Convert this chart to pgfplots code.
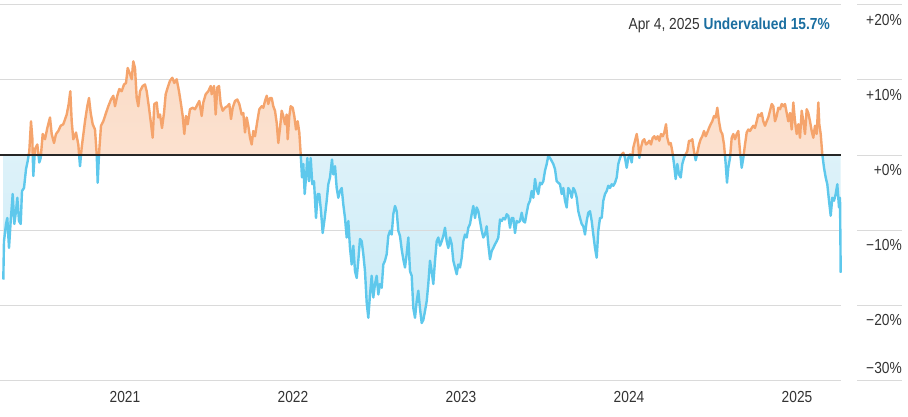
\documentclass[border=0pt]{standalone}
\usepackage{pgfplots}
\pgfplotsset{compat=1.18}
\usepackage{pgfplotstable}
\usepackage{fontspec}
\setmainfont{Liberation Sans}[FakeStretch=0.86]
\definecolor{orline}{HTML}{F5A46C}
\definecolor{orfillA}{HTML}{FBDCC7}
\definecolor{orfillB}{HTML}{FDEBDF}
\definecolor{blline}{HTML}{5EC8EC}
\definecolor{blfillA}{HTML}{E6F5FB}
\definecolor{blfillB}{HTML}{CDECF7}
\definecolor{gridc}{HTML}{DADADA}
\definecolor{txtc}{HTML}{333333}
\definecolor{annblue}{HTML}{1A6EA0}
\pgfplotstableread{
x y
3.3 -16.6
4.0 -11.5
6.0 -9.2
7.3 -8.4
9.0 -12.4
10.7 -8.8
12.7 -5.2
14.3 -9.2
16.0 -7.5
17.3 -5.7
19.0 -8.8
20.7 -9.2
22.0 -4.8
24.0 -4.4
26.0 -1.9
27.7 -0.8
29.3 0.5
31.0 4.5
32.3 2.3
33.3 -2.8
35.0 0.8
37.3 1.4
39.3 -1.0
40.7 -0.4
42.7 2.8
45.0 2.1
47.3 3.6
50.0 5.0
51.7 2.8
54.0 1.6
56.0 2.8
58.3 3.2
60.7 3.9
63.3 4.1
66.7 5.4
68.7 6.8
70.3 8.5
71.7 4.5
73.3 2.1
76.0 3.0
78.3 1.4
80.0 -1.5
81.7 1.0
85.0 4.5
87.3 6.5
89.0 7.6
90.7 5.6
92.7 4.1
95.0 3.4
96.7 0.1
97.7 -3.7
99.0 0.1
101.0 3.9
103.3 4.5
106.0 5.6
108.3 6.5
111.0 7.4
113.3 7.9
115.0 6.5
117.3 7.9
119.3 8.8
121.7 8.5
124.0 9.4
126.0 9.6
127.7 11.6
130.0 10.8
131.7 10.1
133.3 12.5
135.0 11.6
136.7 7.6
138.3 6.5
140.0 8.5
142.7 9.2
145.0 9.4
146.7 8.5
149.0 6.3
150.7 4.5
152.7 2.3
154.3 6.8
156.7 7.0
158.3 5.0
160.0 5.4
162.0 3.6
164.0 5.6
165.7 8.1
167.7 9.0
170.0 9.9
172.3 10.3
174.3 9.6
176.7 10.1
179.0 8.5
181.0 6.8
182.7 5.2
184.3 2.8
186.0 5.2
187.7 4.1
190.0 6.1
192.7 6.3
195.0 6.1
197.7 6.8
199.3 7.2
201.7 5.2
203.3 7.0
205.7 8.1
208.3 8.5
210.7 9.2
211.7 8.1
214.0 9.2
215.7 5.4
217.3 9.0
219.0 9.2
220.7 6.8
222.7 5.9
225.0 6.3
227.3 6.5
229.3 6.8
231.0 4.8
232.7 6.3
235.0 7.2
237.3 7.4
239.3 6.8
241.7 5.4
243.3 5.6
245.0 3.0
246.7 5.0
248.3 3.9
250.0 2.3
251.7 1.4
253.3 3.2
255.0 2.5
257.3 4.5
259.3 6.1
261.7 6.5
263.3 6.3
265.0 7.2
266.7 7.9
268.3 6.8
270.0 7.6
271.7 7.6
273.3 6.5
275.0 5.9
276.7 4.3
278.3 1.6
280.0 3.6
281.7 5.9
283.3 5.2
285.0 4.1
286.7 5.4
287.7 2.1
289.3 5.2
290.7 6.5
292.7 6.3
294.3 5.2
296.0 3.4
297.7 4.5
299.3 3.0
300.7 0.1
302.0 -3.0
303.3 -1.2
304.7 -5.2
306.0 -3.0
307.3 -0.4
309.0 -3.5
310.7 -0.4
312.3 -3.9
314.0 -3.5
316.0 -8.4
317.7 -5.2
319.3 -5.2
321.0 -7.5
322.7 -10.4
324.7 -8.4
326.7 -6.1
328.3 -3.9
330.0 -3.0
332.0 -0.6
333.3 -2.6
335.0 -1.5
336.7 -4.4
338.3 -5.7
340.0 -4.8
341.7 -4.4
343.3 -6.6
345.0 -8.4
346.7 -11.0
348.3 -8.8
350.0 -12.4
351.7 -14.6
353.3 -12.1
355.0 -15.5
356.7 -16.4
358.3 -14.1
360.0 -11.2
361.7 -11.5
363.3 -13.2
365.0 -15.5
366.7 -19.7
368.3 -21.7
370.0 -18.6
371.7 -16.1
373.3 -19.0
375.0 -17.2
376.7 -16.1
378.3 -18.6
380.0 -17.2
381.7 -17.7
383.3 -14.6
385.0 -14.1
386.7 -13.2
388.3 -10.8
390.0 -10.1
391.7 -10.6
393.3 -7.9
395.0 -6.8
396.7 -7.5
398.3 -10.1
400.0 -10.8
401.7 -12.6
403.3 -13.9
405.0 -15.0
406.7 -13.2
408.3 -11.0
410.0 -15.5
411.7 -16.1
413.3 -20.4
415.0 -21.7
416.7 -19.5
418.3 -18.1
420.0 -20.5
421.7 -22.4
423.3 -22.0
425.0 -20.8
426.7 -19.5
428.3 -17.2
430.0 -14.1
431.7 -15.5
433.3 -17.2
435.0 -14.1
436.7 -11.5
438.3 -11.0
440.0 -12.1
441.7 -11.5
443.3 -10.8
445.0 -9.7
446.7 -11.5
448.3 -12.4
450.0 -11.0
451.7 -11.9
453.3 -14.1
455.0 -15.0
456.7 -15.9
458.3 -14.6
460.0 -15.0
461.7 -13.7
463.3 -11.5
465.0 -10.6
466.7 -11.0
468.3 -9.7
470.0 -9.2
471.7 -7.9
473.3 -6.8
475.0 -8.4
476.7 -7.0
478.3 -7.5
480.0 -8.8
481.7 -10.1
483.3 -11.0
485.0 -10.6
486.7 -9.5
488.3 -11.9
490.0 -13.9
491.7 -12.8
493.3 -12.4
495.0 -11.9
496.7 -11.5
498.3 -11.0
500.0 -8.6
501.7 -8.8
503.3 -8.4
505.0 -8.6
506.7 -7.9
508.3 -8.1
510.0 -9.7
511.7 -8.4
513.3 -8.4
515.0 -10.4
516.7 -8.8
518.3 -9.0
520.0 -8.8
521.7 -7.7
523.3 -8.8
525.0 -9.0
526.7 -7.7
528.3 -6.6
530.0 -6.1
531.7 -4.8
533.3 -5.7
535.0 -3.2
536.7 -4.6
538.3 -5.2
540.0 -3.7
541.7 -3.9
543.3 -3.5
545.0 -2.1
546.7 -1.2
548.3 -0.1
550.0 -0.4
551.7 -0.8
553.3 -1.2
555.0 -1.9
556.7 -3.5
558.3 -3.7
560.0 -3.9
561.7 -5.2
563.3 -4.4
565.0 -6.1
566.7 -7.0
568.3 -4.4
570.0 -4.8
571.7 -5.7
573.3 -4.4
575.0 -4.8
576.7 -5.7
578.3 -7.5
580.0 -8.4
581.7 -9.2
583.3 -9.5
585.0 -10.6
586.7 -8.8
588.3 -7.7
590.0 -7.5
591.7 -8.8
593.3 -10.6
595.0 -12.4
596.7 -13.7
598.3 -10.1
600.0 -8.4
601.7 -8.4
603.3 -6.1
605.0 -5.2
606.7 -4.8
608.3 -4.1
610.0 -4.4
611.7 -3.9
613.3 -4.1
615.0 -3.7
616.7 -3.0
618.3 -1.2
620.0 -0.4
621.7 0.1
623.3 0.3
625.0 -0.4
626.7 -1.7
628.3 -0.4
630.0 0.1
631.7 -1.0
633.3 1.0
635.0 1.9
636.7 2.8
638.3 1.4
639.3 -0.4
641.0 1.0
642.7 1.9
644.3 2.1
646.0 1.4
647.7 1.6
649.3 1.9
651.0 1.4
652.7 2.3
654.3 2.5
656.0 2.1
657.7 2.5
659.3 1.9
661.0 2.8
662.7 2.5
664.3 3.0
666.0 4.1
667.3 2.3
669.0 1.4
670.7 1.6
672.3 0.5
674.0 -1.2
675.7 -3.2
677.3 -1.2
679.0 -2.6
680.7 -3.0
682.3 -1.2
684.0 -0.4
685.7 0.1
687.3 0.5
689.0 1.9
690.7 1.9
692.3 2.1
694.0 0.5
695.7 -0.7
697.3 0.3
699.0 1.4
700.7 2.1
702.3 2.5
704.0 3.2
705.7 2.5
707.3 3.0
709.0 3.6
710.7 4.1
712.3 4.5
714.0 5.2
715.7 5.0
717.3 6.3
719.0 4.5
720.7 3.2
722.3 2.8
724.0 1.4
725.7 -1.2
727.0 -3.7
728.3 -1.7
730.0 -0.4
731.7 2.3
733.3 2.8
735.0 2.1
736.7 2.8
738.3 3.2
740.0 0.5
741.7 -1.7
743.3 -0.4
745.0 1.4
746.7 3.0
748.3 3.4
750.0 3.2
751.7 3.6
753.3 3.9
755.0 3.6
756.7 4.5
758.3 5.4
760.0 5.2
761.7 5.6
763.3 4.5
765.0 3.9
766.7 4.5
768.3 5.0
770.0 5.9
771.7 6.8
773.3 6.5
775.0 4.5
776.7 5.2
778.3 6.3
780.0 6.1
781.7 6.8
783.3 6.5
785.0 6.8
786.7 5.6
788.3 4.5
790.0 5.6
791.7 3.4
793.3 7.0
795.0 4.5
796.7 2.8
798.3 4.1
800.0 2.3
801.7 5.9
803.3 4.5
805.0 2.8
806.7 6.1
808.3 5.6
810.0 4.5
811.7 3.2
813.3 2.3
815.0 3.9
816.7 2.8
818.3 7.0
819.3 4.1
820.7 2.8
822.3 0.1
824.0 -1.7
825.7 -3.0
827.3 -3.9
829.0 -6.1
830.7 -8.1
832.3 -5.7
834.0 -6.1
835.7 -5.2
837.3 -3.9
839.0 -7.0
840.0 -5.7
840.7 -15.7
}\valdata
\begin{document}
\begin{tikzpicture}[x=1pt,y=1pt]
\begin{axis}[
  scale only axis, width=840.7pt, height=375pt,
  xmin=0, xmax=840.7, ymin=-30, ymax=20,
  clip=false,
  axis line style={draw=none},
  major tick length=0pt,
  xtick={125,293,461,629,797},
  xticklabels={2021,2022,2023,2024,2025},
  xticklabel style={anchor=north, inner sep=0pt, yshift=-11.5pt},
  ytick={-20,-10,0,10,20},
  yticklabels={−20\%,−10\%,+0\%,+10\%,+20\%},
  yticklabel pos=right,
  yticklabel style={anchor=north east, inner sep=0pt, xshift=61.3pt, yshift=-9pt},
  extra y ticks={-30},
  extra y tick labels={−30\%},
  extra y tick style={yticklabel style={anchor=south east, yshift=15pt}},
  ticklabel style={font=\fontsize{16}{19}\selectfont, text=txtc},
]
\coordinate (LL) at (axis cs:0,-30);
% fills
\begin{scope}
\clip (axis cs:0,0) rectangle (axis cs:841,20);
\addplot[draw=none, top color=orfillA, bottom color=orfillB] table[x=x,y=y] {\valdata} \closedcycle;
\end{scope}
\begin{scope}
\clip (axis cs:0,0) rectangle (axis cs:841,-30);
\addplot[draw=none, top color=blfillA, bottom color=blfillB] table[x=x,y=y] {\valdata} \closedcycle;
\end{scope}
% grid lines
\foreach \g in {-30,-20,-10,10,20} {
  \edef\tmp{\noexpand\draw[gridc, line width=1pt] (axis cs:0,\g) -- (axis cs:840.7,\g);}\tmp
}
\foreach \g in {-30,-20,-10,0,10,20} {
  \edef\tmp{\noexpand\draw[gridc, line width=1pt] (axis cs:857,\g) -- (axis cs:902,\g);}\tmp
}
% lines
\begin{scope}
\clip (axis cs:0,0) rectangle (axis cs:842,20);
\addplot[orline, line width=2.4pt, line join=round, mark=none] table[x=x,y=y] {\valdata};
\end{scope}
\begin{scope}
\clip (axis cs:0,0) rectangle (axis cs:842,-30);
\addplot[blline, line width=2.4pt, line join=round, mark=none] table[x=x,y=y] {\valdata};
\end{scope}
\draw[black!85, line width=1.3pt] (axis cs:0,0) -- (axis cs:840.7,0);
\node[anchor=base east, inner sep=0pt, font=\fontsize{16}{19}\selectfont] at (axis cs:830,16.67)
  {\textcolor{txtc}{Apr 4, 2025} \textcolor{annblue}{\bfseries Undervalued 15.7\%}};
\end{axis}
\pgfresetboundingbox
\useasboundingbox ([yshift=-36pt]LL) rectangle ([xshift=908pt,yshift=380pt]LL);
\end{tikzpicture}
\end{document}
